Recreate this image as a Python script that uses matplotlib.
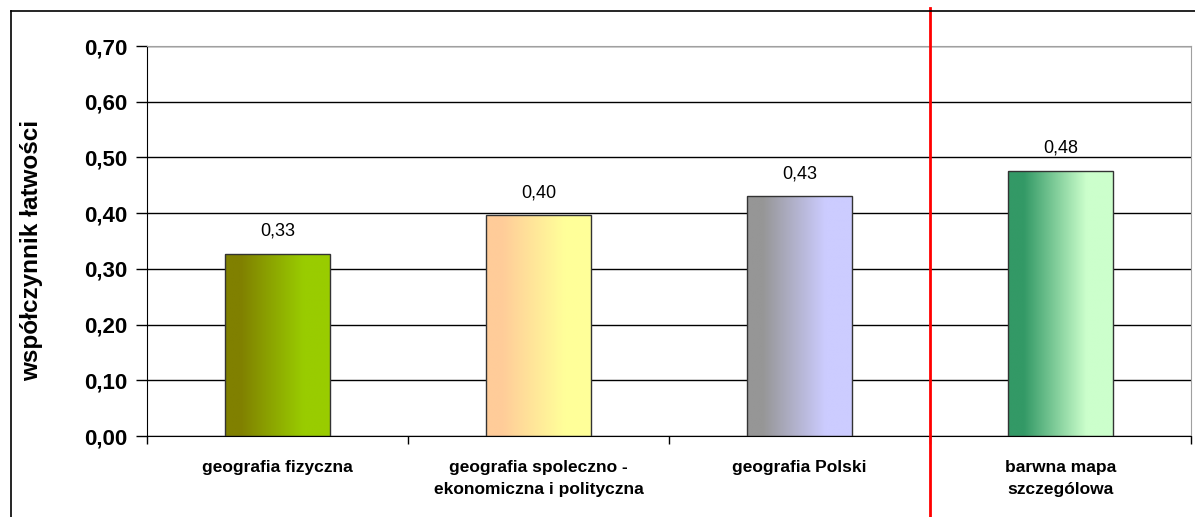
import numpy as np
import matplotlib.pyplot as plt
from matplotlib.lines import Line2D
import matplotlib.transforms as mtransforms

plt.rcParams['font.family'] = ['Liberation Sans', 'DejaVu Sans']

categories = ["geografia fizyczna",
              "geografia spoleczno -\nekonomiczna i polityczna",
              "geografia Polski",
              "barwna mapa\nszczególowa"]
values = [0.327, 0.396, 0.430, 0.476]
leftColors = [(128, 128, 0), (255, 204, 153), (150, 150, 150), (51, 153, 102)]
rightColors = [(153, 204, 0), (255, 255, 153), (204, 204, 255), (204, 255, 204)]
yTicks = [0.0, 0.1, 0.2, 0.3, 0.4, 0.5, 0.6, 0.7]
yLabel = "współczynnik łatwości"

W, H = 1195, 517
fig = plt.figure(figsize=(W / 100, H / 100), dpi=100)
ax = fig.add_axes([147 / W, (H - 436) / H, (1191 - 147) / W, (436 - 46) / H])

x = np.arange(len(categories))
bars = ax.bar(x, values, width=0.4, color='none', edgecolor='#333333', linewidth=1, zorder=3)

# horizontal two-colour gradient inside each bar
t = np.linspace(0, 1, 256)
ramp = np.clip((t - 0.15) / 0.6, 0, 1)
for bar, c0, c1 in zip(bars, leftColors, rightColors):
    c0 = np.array(c0) / 255.0
    c1 = np.array(c1) / 255.0
    grad = c0[None, :] * (1 - ramp[:, None]) + c1[None, :] * ramp[:, None]
    img = grad[None, :, :]
    x0, y0 = bar.get_x(), bar.get_y()
    im = ax.imshow(img, extent=[x0, x0 + bar.get_width(), y0, y0 + bar.get_height()],
                   aspect='auto', origin='lower', zorder=2, interpolation='bilinear')
    im.set_clip_path(bar)

for xi, v in zip(x, values):
    ax.annotate(f"{v:.2f}".replace('.', ','), (xi, v), xytext=(0, 10), textcoords='offset points',
                ha='center', va='bottom', fontsize=13)

ax.set_xlim(-0.5, len(categories) - 0.5)
ax.set_ylim(0, 0.7)
ax.set_yticks(yTicks)
ax.set_yticklabels([f"{v:.2f}".replace('.', ',') for v in yTicks], fontsize=16, fontweight='bold')
ax.tick_params(axis='y', length=8, width=1, pad=6, direction='out')

ax.set_xticks(np.arange(len(categories) + 1) - 0.5)
ax.set_xticklabels([])
ax.set_xticks(x, minor=True)
ax.set_xticklabels(categories, minor=True, fontsize=12.5, fontweight='bold', linespacing=1.65)
ax.tick_params(axis='x', which='major', length=6, width=1, direction='out')
ax.tick_params(axis='x', which='minor', length=0, pad=17)
for lbl in ax.get_xticklabels(minor=True):
    lbl.set_verticalalignment('top')

ax.set_ylabel(yLabel, fontsize=17.5, fontweight='bold')
ax.yaxis.set_label_coords(-0.0996, 0.477)

ax.set_axisbelow(True)
ax.yaxis.grid(True, color='black', linewidth=1)
ax.spines['top'].set_color('#a0a0a0')
ax.spines['right'].set_color('#a0a0a0')
ax.spines['left'].set_color('black')
ax.spines['bottom'].set_color('black')

# red separator line between categories 3 and 4
trans = mtransforms.blended_transform_factory(ax.transData, fig.transFigure)
ax.add_line(Line2D([2.5, 2.5], [0, (H - 8) / H], transform=trans, color='red',
                   linewidth=2, clip_on=False, zorder=5))

# outer frame (top and left edges visible)
fig.add_artist(Line2D([11 / W, 1], [(H - 11) / H, (H - 11) / H], color='black', linewidth=1.2))
fig.add_artist(Line2D([11 / W, 11 / W], [0, (H - 11) / H], color='black', linewidth=1.2))

fig.savefig("out.png", dpi=100)
